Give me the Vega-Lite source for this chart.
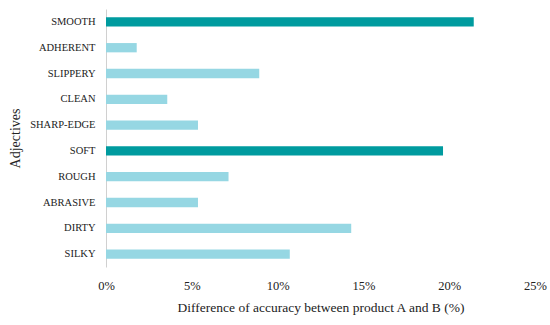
{
  "$schema": "https://vega.github.io/schema/vega-lite/v6.json",
  "width": 429,
  "height": 258,
  "autosize": "none",
  "padding": {"left": 106, "top": 9, "right": 15, "bottom": 58},
  "background": "white",
  "config": {"view": {"stroke": null}, "font": "Liberation Serif"},
  "data": {"values": [
    {"adj": "SMOOTH", "v": 0.2143, "hl": "y"},
    {"adj": "ADHERENT", "v": 0.0179, "hl": "n"},
    {"adj": "SLIPPERY", "v": 0.0893, "hl": "n"},
    {"adj": "CLEAN", "v": 0.0357, "hl": "n"},
    {"adj": "SHARP-EDGE", "v": 0.0536, "hl": "n"},
    {"adj": "SOFT", "v": 0.1964, "hl": "y"},
    {"adj": "ROUGH", "v": 0.0714, "hl": "n"},
    {"adj": "ABRASIVE", "v": 0.0536, "hl": "n"},
    {"adj": "DIRTY", "v": 0.1429, "hl": "n"},
    {"adj": "SILKY", "v": 0.1071, "hl": "n"}
  ]},
  "mark": {"type": "bar"},
  "encoding": {
    "y": {"field": "adj", "type": "nominal", "sort": null,
      "scale": {"paddingInner": 0.64, "paddingOuter": 0.32},
      "axis": {"title": "Adjectives", "titleFont": "Liberation Serif", "titleFontSize": 14, "titleFontWeight": "normal", "titleColor": "#222", "titleX": -84,
        "labelFont": "Liberation Serif", "labelFontSize": 10.5, "labelColor": "#222", "labelPadding": 11,
        "ticks": false, "domainColor": "#d0d0d0", "domainWidth": 1}},
    "x": {"field": "v", "type": "quantitative",
      "scale": {"domain": [0, 0.25]},
      "axis": {"title": "Difference of accuracy between product A and B (%)", "format": ".0%", "values": [0, 0.05, 0.1, 0.15, 0.2, 0.25],
        "labelOverlap": false, "labelFlush": false, "labelBound": false,
        "titleFont": "Liberation Serif", "titleFontSize": 13.5, "titleFontWeight": "normal", "titleColor": "#222", "titlePadding": 9,
        "labelFont": "Liberation Serif", "labelFontSize": 12.5, "labelColor": "#222", "labelPadding": 12,
        "ticks": false, "domain": false, "grid": false}},
    "color": {"field": "hl", "type": "nominal", "legend": null,
      "scale": {"domain": ["y", "n"], "range": ["#009b9f", "#96d7e3"]}}
  }
}
